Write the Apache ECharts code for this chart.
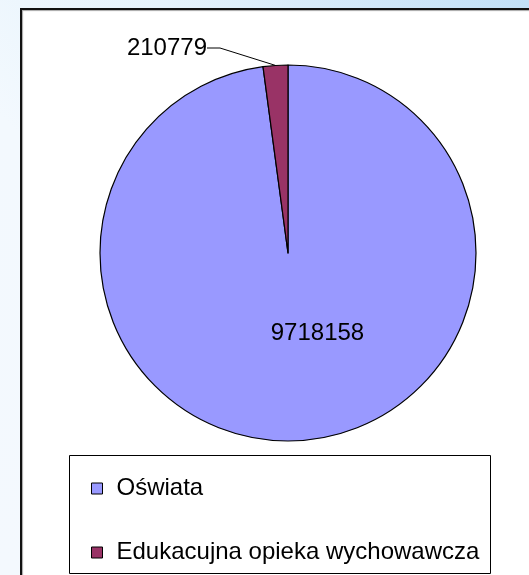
<!DOCTYPE html>
<html>
<head>
<meta charset="utf-8">
<script src="https://cdn.jsdelivr.net/npm/echarts@6/dist/echarts.min.js"></script>
<style>
  html, body { margin: 0; padding: 0; }
  body {
    width: 529px; height: 575px; overflow: hidden;
    background: linear-gradient(to bottom left, #c2e0f7 0%, #e6f3fc 35%, #f3f9fe 60%, #f4f9fe 100%);
  }
  #chart { width: 529px; height: 575px; }
</style>
</head>
<body>
<div id="chart"></div>
<script>
// data
var categories = ['Oświata', 'Edukacujna opieka wychowawcza'];
var values = [9718158, 210779];
var colors = ['#9999ff', '#993366'];

var font = '"Liberation Sans", Arial, sans-serif';

let chart = echarts.init(document.getElementById('chart'));

let option = {
  animation: false,
  color: colors,
  graphic: [
    {
      // chart frame
      type: 'rect',
      shape: { x: 21, y: 9, width: 530, height: 590 },
      style: { fill: '#ffffff', stroke: '#111', lineWidth: 2,
               shadowColor: 'rgba(0,0,0,0.35)', shadowOffsetX: 1, shadowOffsetY: 1, shadowBlur: 1 },
      z: -10
    },
    {
      // legend box
      type: 'rect',
      shape: { x: 69.5, y: 455.5, width: 421, height: 118 },
      style: { fill: '#ffffff', stroke: '#000', lineWidth: 1 },
      z: -5
    }
  ],
  legend: {
    orient: 'vertical',
    left: 91,
    top: 476,
    padding: 0,
    icon: 'rect',
    itemWidth: 11,
    itemHeight: 11,
    itemGap: 39,
    selectedMode: false,
    itemStyle: { borderColor: '#000', borderWidth: 1 },
    textStyle: { fontFamily: font, fontSize: 24, color: '#000', lineHeight: 25, padding: [0, 0, 0, 9] },
    data: categories
  },
  series: [{
    type: 'pie',
    center: [288, 253],
    radius: 188,
    startAngle: 90,
    clockwise: true,
    avoidLabelOverlap: false,
    itemStyle: { borderColor: '#000', borderWidth: 1.2 },
    label: { fontFamily: font, fontSize: 24, color: '#000', formatter: '{c}' },
    labelLine: { show: true, lineStyle: { color: '#000', width: 1 }, length: 18, length2: 13, smooth: false },
    emphasis: { disabled: true },
    labelLayout: function (params) {
      if (params.dataIndex === 1) {
        return { x: 207, y: 48, align: 'right', verticalAlign: 'middle' };
      }
      return { dx: 23, dy: -16 };
    },
    data: categories.map(function (name, i) {
      let d = { name: name, value: values[i] };
      if (i === 0) {
        d.label = { position: 'inside' };
        d.labelLine = { show: false };
      } else {
        d.label = { position: 'outside' };
      }
      return d;
    })
  }]
};

chart.setOption(option);
</script>
</body>
</html>
